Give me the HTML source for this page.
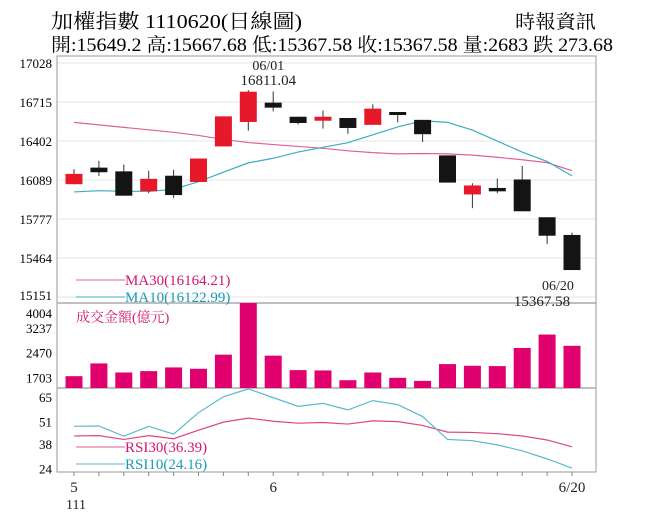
<!DOCTYPE html>
<html><head><meta charset="utf-8"><style>
html,body{margin:0;padding:0;background:#fff;width:656px;height:526px;overflow:hidden}
svg{display:block;font-family:"Liberation Serif","Noto Serif CJK TC","Noto Serif CJK SC",serif}
</style></head><body>
<svg id="chart" width="656" height="526" viewBox="0 0 656 526" xmlns="http://www.w3.org/2000/svg">
<text x="51" y="28" font-size="20" textLength="251" lengthAdjust="spacingAndGlyphs">加權指數 1110620(日線圖)</text>
<text x="515" y="28" font-size="19" textLength="81" lengthAdjust="spacingAndGlyphs">時報資訊</text>
<text x="51" y="51" font-size="19" textLength="562" lengthAdjust="spacingAndGlyphs">開:15649.2 高:15667.68 低:15367.58 收:15367.58 量:2683 跌 273.68</text>
<g id="g"></g>
</svg>
<script>
const dates=["5/2","5/3","5/4","5/5","5/6","5/9","5/10","6/01","6/02","6/06","6/07","6/08","6/09","6/10","6/13","6/14","6/15","6/16","6/17","6/17b","6/20"];
const opens=[16056,16189,16159,15999,16124,16074,16359,16555,16710,16597,16565,16587,16532,16635,16572,16287,15974,16026,16094,15791,15649.2];
const highs=[16177,16244,16214,16164,16172,16262,16600,16811.04,16800,16597,16647,16587,16697,16635,16572,16287,16064,16102,16202,15791,15667.68];
const lows=[16056,16122,15964,15984,15946,16074,16359,16485,16640,16535,16502,16460,16532,16552,16394,16069,15864,15984,15839,15576,15367.58];
const closes=[16139,16152,15964,16099,15969,16262,16600,16798,16670,16547,16597,16507,16662,16615,16457,16069,16046,15999,15839,15643,15367.58];
const ma30=[16552,16532,16512,16492,16472,16447,16415,16390,16374,16359,16344,16324,16309,16299,16302,16299,16289,16272,16252,16229,16164.21];
const ma10=[15994,16004,15999,15999,16014,16076,16152,16227,16264,16314,16352,16389,16452,16515,16565,16552,16490,16402,16314,16239,16122.99];
const volume=[1745,2139,1859,1901,2015,1973,2409,4004,2378,1932,1922,1621,1859,1694,1600,2118,2067,2056,2616,3030,2683];
const rsi10=[48.1,48.3,42.5,48.1,43.7,55.9,65,69.5,64.5,59.5,61.2,57.5,62.8,60.5,53.7,40.6,39.9,37.5,34.1,29.5,24.16];
const rsi30=[42.6,42.8,40.6,42.8,41.0,45.9,50.5,52.8,51.0,49.9,50.3,49.4,51.2,50.8,48.6,44.8,44.6,43.9,42.6,40.3,36.39];
const priceTicks=[17028,16715,16402,16089,15777,15464,15151];
const volTicks=[4004,3237,2470,1703];
const rsiTicks=[65,51,38,24];
const xLabels=[{i:0,t:"5"},{i:8,t:"6"},{i:20,t:"6/20"}];

const NS="http://www.w3.org/2000/svg";
const g=document.getElementById('g');
function mk(tag,attrs,parent){const e=document.createElementNS(NS,tag);for(const k in attrs)e.setAttribute(k,attrs[k]);(parent||g).appendChild(e);return e;}
const L=57,R=596,T=56,P1=303,P2=388,B=472;
const xOf=i=>74+i*(498/20);
const yP=v=>63+(17028-v)*0.1247;
const yVol=v=>P2-(v-1380)*((P2-P1)/(4004-1380));
const yR=v=>P2+(70-v)*(B-P2)/48;

priceTicks.forEach(v=>{const l=mk('line',{x1:L,x2:R,y1:yP(v),y2:yP(v),stroke:'#e6e6e6','stroke-width':1});

const t=mk('text',{x:52,y:Math.min(yP(v)+5,300),'font-size':13,'text-anchor':'end'});t.textContent=v;
});
volTicks.forEach(v=>{const t=mk('text',{x:52,y:Math.max(yVol(v)+5,318),'font-size':13,'text-anchor':'end'});t.textContent=v;
});
rsiTicks.forEach(v=>{const t=mk('text',{x:52,y:yR(v)+5,'font-size':13,'text-anchor':'end'});t.textContent=v;
});

const fr=mk('rect',{x:L,y:T,width:R-L,height:B-T,fill:'none',stroke:'#999','stroke-width':1});

[P1,P2].forEach(y=>{const l=mk('line',{x1:L,x2:R,y1:y,y2:y,stroke:'#aaa','stroke-width':1.5});
});
for(let i=0;i<21;i++){const l=mk('line',{x1:xOf(i),x2:xOf(i),y1:B,y2:B+4,stroke:'#888'});
}

function poly(arr,fy,color,name,w){const p=mk('polyline',{points:arr.map((v,i)=>xOf(i)+','+fy(v)).join(' '),fill:'none',stroke:color,'stroke-width':w||1.2});
}
poly(ma30,yP,'#e0609a','ma30-line');
poly(ma10,yP,'#3aaec0','ma10-line');

for(let i=0;i<opens.length;i++){
 const up=closes[i]>=opens[i];const col=up?'#e8182b':'#141414';
 const w=mk('line',{x1:xOf(i),x2:xOf(i),y1:yP(highs[i]),y2:yP(lows[i]),stroke:'#333','stroke-width':1});
 
 const top=yP(Math.max(opens[i],closes[i])),bot=yP(Math.min(opens[i],closes[i]));
 const r=mk('rect',{x:xOf(i)-8.5,y:top,width:17,height:Math.max(bot-top,3),fill:col});
 
}
volume.forEach((v,i)=>{const y=yVol(v);const r=mk('rect',{x:xOf(i)-8.5,y:y,width:17,height:P2-y,fill:'#e0006e'});
});
poly(rsi30,yR,'#e0447f','rsi30-line');
poly(rsi10,yR,'#5bb8cc','rsi10-line');

function txt(x,y,s,size,fill,name,anchor){const t=mk('text',{x:x,y:y,'font-size':size,fill:fill||'#222','text-anchor':anchor||'start'});t.textContent=s;
return t;}
txt(xOf(7)+20,70,'06/01',14,'#222','high-date-label','middle');
txt(xOf(7)+20,85,'16811.04',15,'#222','high-value-label','middle');
txt(xOf(20)-14,290,'06/20',14,'#222','low-date-label','middle');
txt(xOf(20)-30,306,'15367.58',15,'#222','low-value-label','middle');
let l1=mk('line',{x1:76,x2:125,y1:280,y2:280,stroke:'#e0609a'});
txt(125,285,'MA30(16164.21)',15,'#d4176e','ma30-legend');
let l2=mk('line',{x1:76,x2:125,y1:297,y2:297,stroke:'#3aaec0'});
txt(125,302,'MA10(16122.99)',15,'#1a9ab8','ma10-legend');
txt(76,322,'成交金額(億元)',14,'#d4176e','volume-legend');
let l3=mk('line',{x1:76,x2:125,y1:447,y2:447,stroke:'#e0609a'});
txt(125,452,'RSI30(36.39)',15,'#d4176e','rsi30-legend');
let l4=mk('line',{x1:76,x2:125,y1:464,y2:464,stroke:'#5bb8cc'});
txt(125,469,'RSI10(24.16)',15,'#1a9ab8','rsi10-legend');
xLabels.forEach(o=>txt(xOf(o.i),492,o.t,15,'#222','x-axis-label','middle'));
txt(xOf(0)-8,509,'111',14,'#222','year-label');
</script>
</body></html>
